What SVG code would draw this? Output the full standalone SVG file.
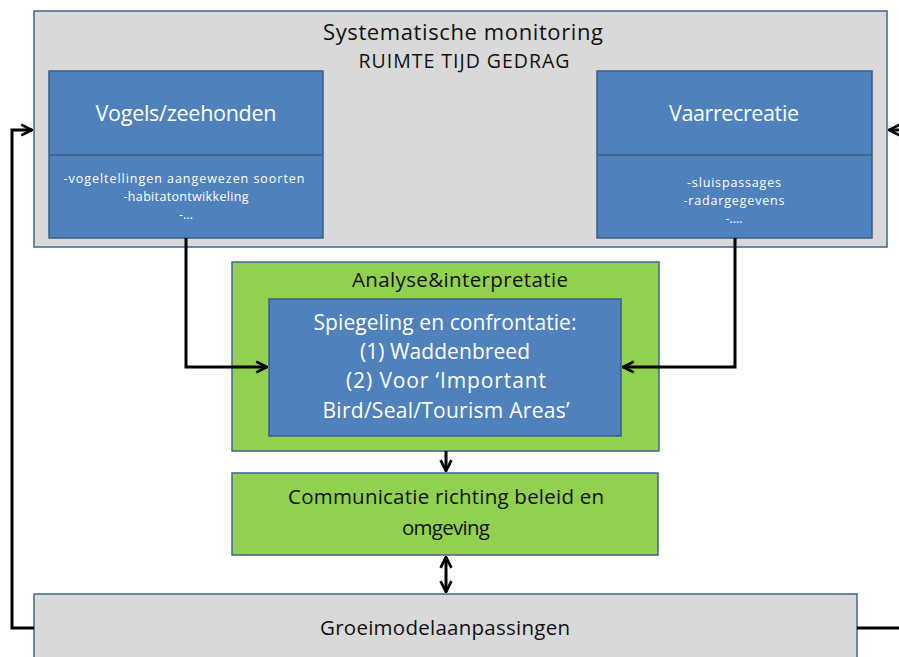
<svg xmlns="http://www.w3.org/2000/svg" width="899" height="657" viewBox="0 0 899 657">
<defs>
<style>
.gray{fill:#d9d9d9;stroke:#3f6592;stroke-width:1.5}
.blue{fill:#4f81bd;stroke:#385d8a;stroke-width:1.5}
.green{fill:#92d050;stroke:#3f6592;stroke-width:1.5}
.t{font-family:"Open Sans","Liberation Sans",sans-serif;text-anchor:middle}
.w{fill:#ffffff}
.k{fill:#111111}
.c{fill:none;stroke:#000000;stroke-width:3}
</style>
<marker id="ah" viewBox="0 0 10 10" refX="9" refY="5" markerWidth="4.5" markerHeight="4.5" orient="auto-start-reverse" markerUnits="strokeWidth">
<path d="M1,1 L9,5 L1,9" fill="none" stroke="#000" stroke-width="2"/>
</marker>
</defs>
<rect width="899" height="657" fill="#ffffff"/>
<g id="monitoring">
<rect class="gray" x="34" y="11" width="853" height="236"/>
<text class="t k" x="463" y="40" font-size="22" textLength="280">Systematische monitoring</text>
<text class="t k" x="464" y="68" font-size="19.5" textLength="211">RUIMTE TIJD GEDRAG</text>
</g>
<g id="vogels">
<rect class="blue" x="49" y="71" width="274" height="167"/>
<line x1="49" y1="155" x2="323" y2="155" stroke="#385d8a" stroke-width="1.5"/>
<text class="t w" x="186" y="121" font-size="21.5" textLength="181">Vogels/zeehonden</text>
<text class="t w" x="184" y="183" font-size="12.5" textLength="241">-vogeltellingen aangewezen soorten</text>
<text class="t w" x="186" y="201" font-size="12.5" textLength="125">-habitatontwikkeling</text>
<text class="t w" x="186" y="219" font-size="12.5">-...</text>
</g>
<g id="vaarrecreatie">
<rect class="blue" x="597" y="71" width="275" height="167"/>
<line x1="597" y1="155" x2="872" y2="155" stroke="#385d8a" stroke-width="1.5"/>
<text class="t w" x="734" y="187" font-size="12.5" textLength="94">-sluispassages</text>
<text class="t w" x="734" y="205" font-size="12.5" textLength="101">-radargegevens</text>
<text class="t w" x="734" y="223" font-size="12.5">-....</text>
<text class="t w" x="734" y="121" font-size="21.5" textLength="130">Vaarrecreatie</text>
</g>
<g id="analyse">
<rect class="green" x="232" y="262" width="427" height="189"/>
<text class="t k" x="460" y="287" font-size="20.5" textLength="216">Analyse&amp;interpretatie</text>
</g>
<g id="spiegeling">
<rect class="blue" x="269" y="299" width="352" height="137"/>
<text class="t w" x="445" y="330" font-size="21" textLength="263">Spiegeling en confrontatie:</text>
<text class="t w" x="445" y="359" font-size="21" textLength="170">(1) Waddenbreed</text>
<text class="t w" x="446" y="388" font-size="21" textLength="200">(2) Voor ‘Important</text>
<text class="t w" x="446" y="418" font-size="21" textLength="247">Bird/Seal/Tourism Areas’</text>
</g>
<g id="communicatie">
<rect class="green" x="232" y="473" width="426" height="82"/>
<text class="t k" x="446" y="504" font-size="20.5" textLength="316">Communicatie richting beleid en</text>
<text class="t k" x="446" y="535" font-size="20.5" textLength="88">omgeving</text>
</g>
<g id="groeimodel">
<rect class="gray" x="34" y="594" width="823" height="70"/>
<text class="t k" x="445" y="635" font-size="20.5" textLength="250">Groeimodelaanpassingen</text>
</g>
<g id="connectors">
<path class="c" d="M186,238 V367 H267" marker-end="url(#ah)"/>
<path class="c" d="M735,238 V367 H623" marker-end="url(#ah)"/>
<path class="c" d="M446,451 V471" marker-end="url(#ah)"/>
<path class="c" d="M446,557 V592" marker-start="url(#ah)" marker-end="url(#ah)"/>
<path class="c" d="M34,628 H12 V130 H32" marker-end="url(#ah)"/>
<path class="c" d="M857,628 H902 M902,130 H889" marker-end="url(#ah)"/>
</g>
</svg>
